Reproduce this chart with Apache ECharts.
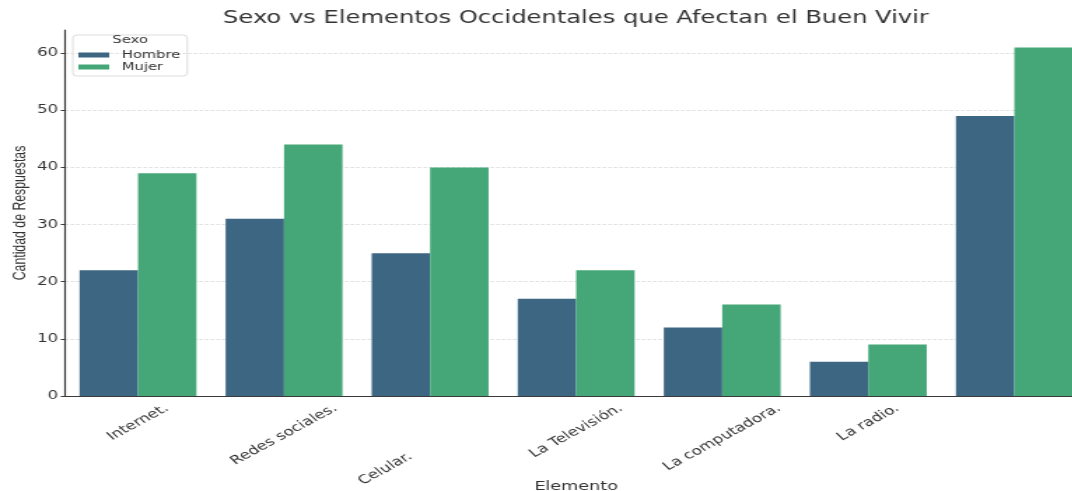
<!DOCTYPE html>
<html>
<head>
<meta charset="utf-8">
<script src="https://cdn.jsdelivr.net/npm/echarts@6/dist/echarts.min.js"></script>
<style>
html,body{margin:0;padding:0;background:#fff;overflow:hidden;}
#chart{width:766px;height:491px;transform:scaleX(1.4);transform-origin:0 0;}
</style>
</head>
<body>
<div id="chart"></div>
<script>
// ---- data ----
const categories = ['Internet.', 'Redes sociales.', 'Celular.                     ', 'La Televisión.', 'La computadora.', 'La radio.', ''];
const hombre = [22, 31, 25, 17, 12, 6, 49];
const mujer = [39, 44, 40, 22, 16, 9, 61];
const seriesNames = ['Hombre', 'Mujer'];
const yTicks = [0, 10, 20, 30, 40, 50, 60];
const titleText = 'Sexo vs Elementos Occidentales que Afectan el Buen Vivir';
const legendTitle = 'Sexo';
const xName = 'Elemento';
const yName = 'Cantidad de Respuestas';

// ---- styling / layout ----
const FONT = 'DejaVu Sans';
const LABEL_FONT = 12;
const ROT = 37;
const rad = ROT * Math.PI / 180;
const measureCtx = document.createElement('canvas').getContext('2d');
measureCtx.font = LABEL_FONT + 'px "' + FONT + '"';

// emulate matplotlib rotated labels: bbox centred on tick, bbox top at fixed offset
const rich = {};
categories.forEach((c, i) => {
  const w = measureCtx.measureText(c).width;
  const H = w * Math.sin(rad) + LABEL_FONT * 0.85 * Math.cos(rad);
  const dy = H / 2;
  rich['l' + i] = {
    fontSize: LABEL_FONT, fontFamily: FONT, color: '#333',
    padding: [2 * dy * Math.cos(rad), 2 * dy * Math.sin(rad), 0, 0]
  };
});

const chart = echarts.init(document.getElementById('chart'));
const AX = '#3a3a3a';
chart.setOption({
  animation: false,
  backgroundColor: '#fff',
  title: [
    {text: titleText, left: 411.4, top: 10, textAlign: 'center', padding: 0,
     textStyle: {fontFamily: FONT, fontSize: 17.3, fontWeight: 'normal', color: '#333'}},
    {text: legendTitle, left: 93, top: 35, textAlign: 'center', padding: 0,
     textStyle: {fontFamily: FONT, fontSize: 10.5, fontWeight: 'normal', color: '#333'}}
  ],
  legend: {
    orient: 'vertical', left: 52, top: 35,
    itemWidth: 22, itemHeight: 5, itemGap: 0,
    padding: [14, 5, 3, 4],
    borderColor: '#dddddd', borderWidth: 1, borderRadius: 3,
    icon: 'rect',
    textStyle: {fontFamily: FONT, fontSize: 10.5, color: '#333', lineHeight: 12, padding: [0, 0, 0, 4]},
    data: seriesNames
  },
  grid: {left: 46.4, right: -10.7, top: 30, bottom: 95, containLabel: false, outerBoundsMode: 'none'},
  xAxis: {
    type: 'category',
    data: categories,
    name: xName, nameLocation: 'middle', nameGap: 84, nameMoveOverlap: false,
    nameTextStyle: {fontFamily: FONT, fontSize: 12.6, color: '#333'},
    axisLine: {lineStyle: {color: AX, width: 1.2}},
    axisTick: {alignWithLabel: true, length: 3.5, lineStyle: {color: AX}},
    axisLabel: {
      interval: 0, rotate: ROT, margin: 7, align: 'center', verticalAlign: 'middle',
      formatter: (v, i) => v ? '{l' + i + '|' + v + '}' : '',
      rich: rich
    }
  },
  yAxis: {
    type: 'value', min: 0, max: 64.05, interval: 10,
    name: yName, nameLocation: 'middle', nameGap: 26, nameMoveOverlap: false,
    nameTextStyle: {fontFamily: 'Liberation Sans', fontSize: 12.3, color: '#333'},
    axisLine: {show: true, lineStyle: {color: AX, width: 1.2}},
    axisTick: {show: true, length: 3, lineStyle: {color: AX}, customValues: yTicks},
    axisLabel: {fontFamily: FONT, fontSize: 11.8, color: '#333', margin: 5, customValues: yTicks},
    splitLine: {show: true, lineStyle: {color: '#d8d8d8', width: 0.8, type: [2.5, 1.5]}}
  },
  series: [
    {name: seriesNames[0], type: 'bar', data: hombre, barGap: '0%', barCategoryGap: '20%',
     itemStyle: {color: '#3d6682'}},
    {name: seriesNames[1], type: 'bar', data: mujer, barGap: '0%', barCategoryGap: '20%',
     itemStyle: {color: '#45a778'}}
  ]
});
</script>
</body>
</html>
